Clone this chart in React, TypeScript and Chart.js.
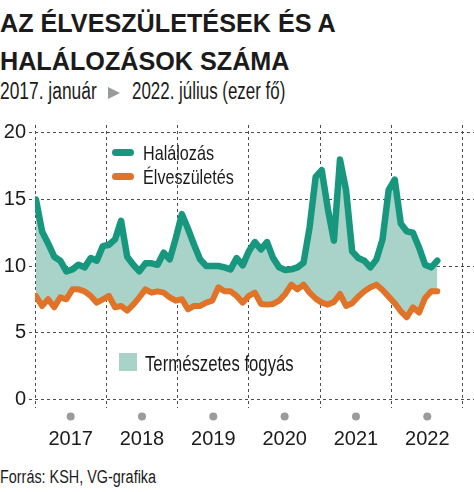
import React, { useEffect, useRef } from "react";
import { Chart, registerables } from "chart.js";

Chart.register(...registerables);

// ---- data (thousand persons, monthly, 2017 Jan – 2022 Jul) ----
const years = ["2017", "2018", "2019", "2020", "2021", "2022"];

const deaths = [
  15.0, 12.6, 11.7, 10.7, 10.4, 9.6, 9.75, 10.1, 9.9, 10.6, 10.4, 11.5,
  11.6, 12.0, 13.4, 10.7, 10.1, 9.6, 10.2, 10.2, 10.1, 11.0, 10.5, 12.1,
  13.9, 12.8, 11.6, 10.5, 10.0, 10.0, 10.0, 9.9, 9.75, 10.6, 10.05, 11.1,
  11.8, 11.25, 11.8, 10.6, 9.9, 9.7, 9.75, 9.9, 10.25, 12.9, 16.7, 17.2,
  14.3, 11.9, 18.0, 15.7, 11.1, 10.6, 10.4, 9.9, 10.5, 12.0, 15.7, 16.5,
  13.2, 12.6, 12.5, 11.4, 10.1, 9.9, 10.4,
];

const births = [
  7.75, 7.0, 7.5, 6.9, 7.65, 7.5, 8.25, 8.25, 8.1, 7.75, 7.25, 7.5,
  7.75, 6.9, 7.0, 6.65, 7.1, 7.65, 8.25, 8.0, 8.1, 8.0, 7.65, 7.4,
  7.5, 6.75, 7.0, 7.0, 7.25, 7.4, 8.4, 8.1, 8.1, 7.75, 7.25, 7.75,
  8.0, 7.15, 7.1, 7.15, 7.4, 7.9, 8.6, 8.25, 8.6, 8.0, 7.55, 7.25,
  7.1, 7.3, 7.9, 7.0, 7.2, 7.7, 8.1, 8.4, 8.6, 8.2, 7.7, 7.2,
  6.6, 6.15, 6.9, 6.5, 7.6, 8.1, 8.1,
];

const yTicks = [0, 5, 10, 15, 20];

// ---- style ----
const FONT = "'Liberation Sans', Arial, sans-serif";
const TEAL = "#17977d";
const ORANGE = "#e07328";
const FILL = "#a9d3c9";
const GRID = "#4d4d4d";
const TEXT = "#1b1b1b";

const X_MIN = -0.16;
const SPAN = 11.73;
const X_MAX = 72.04;
const Y_MIN = -0.67;
const Y_MAX = 20.6;

export default function App() {
  const ref = useRef<HTMLCanvasElement>(null);

  useEffect(() => {
    document.body.style.margin = "0";
    const dotPlugin = {
      id: "yearDots",
      afterDraw(chart: any) {
        const s = chart.scales.xYear;
        const ctx = chart.ctx;
        ctx.save();
        ctx.fillStyle = "#9b9b9b";
        s.ticks.forEach((t: any) => {
          const px = s.getPixelForValue(t.value);
          ctx.beginPath();
          ctx.arc(px, chart.chartArea.bottom + 8.5, 4, 0, Math.PI * 2);
          ctx.fill();
        });
        ctx.restore();
      },
    };

    const chart = new Chart(ref.current as HTMLCanvasElement, {
      type: "line",
      data: {
        datasets: [
          {
            label: "Halálozás",
            data: deaths.map((v, i) => ({ x: i, y: v })),
            borderColor: TEAL,
            borderWidth: 6.5,
            fill: "+1",
            backgroundColor: FILL,
            pointRadius: 0,
            tension: 0,
            borderJoinStyle: "round",
            borderCapStyle: "round",
            xAxisID: "x",
            yAxisID: "y",
          },
          {
            label: "Élveszületés",
            data: births.map((v, i) => ({ x: i, y: v })),
            borderColor: ORANGE,
            borderWidth: 6,
            fill: false,
            pointRadius: 0,
            tension: 0,
            borderJoinStyle: "round",
            borderCapStyle: "round",
            xAxisID: "x",
            yAxisID: "y",
          },
        ],
      },
      options: {
        responsive: false,
        animation: false,
        events: [],
        layout: { padding: { top: 13, left: 0, right: 0, bottom: 0 } },
        plugins: {
          legend: { display: false },
          tooltip: { enabled: false },
          filler: { drawTime: "beforeDatasetsDraw" },
        } as any,
        scales: {
          x: {
            type: "linear",
            position: "bottom",
            min: X_MIN,
            max: X_MAX,
            afterBuildTicks: (s: any) => {
              s.ticks = [0, 1, 2, 3, 4, 5, 6].map((k) => ({ value: X_MIN + k * SPAN }));
            },
            afterFit: (s: any) => {
              s.height = 0;
            },
            ticks: { display: false },
            grid: { color: GRID, lineWidth: 1, drawTicks: false },
            border: { display: false, dash: [3, 3] },
          },
          xYear: {
            type: "linear",
            position: "bottom",
            min: X_MIN,
            max: X_MAX,
            afterBuildTicks: (s: any) => {
              s.ticks = years.map((_, k) => ({ value: X_MIN + (k + 0.5) * SPAN }));
            },
            afterFit: (s: any) => {
              s.height = 52;
            },
            ticks: {
              callback: (_v: any, i: number) => years[i],
              font: { family: FONT, size: 20 },
              color: TEXT,
              padding: 19,
              autoSkip: false,
              maxRotation: 0,
            },
            grid: { display: false, drawTicks: false },
            border: { display: false },
          },
          y: {
            type: "linear",
            min: Y_MIN,
            max: Y_MAX,
            afterBuildTicks: (s: any) => {
              s.ticks = yTicks.map((v) => ({ value: v }));
            },
            afterFit: (s: any) => {
              s.width = 35;
            },
            ticks: {
              font: { family: FONT, size: 20 },
              color: TEXT,
              padding: 3,
            },
            grid: { color: GRID, lineWidth: 1, tickLength: 6, tickBorderDash: [3, 3] },
            border: { display: false, dash: [3, 3] },
          },
        } as any,
      },
      plugins: [dotPlugin],
    });
    return () => chart.destroy();
  }, []);

  const txt = (left: number, top: number, size: number, sx: number, extra: React.CSSProperties = {}): React.CSSProperties => ({
    position: "absolute",
    left,
    top,
    fontSize: size,
    lineHeight: `${size}px`,
    whiteSpace: "nowrap",
    transform: `scaleX(${sx})`,
    transformOrigin: "0 0",
    ...extra,
  });

  return (
    <div
      style={{
        position: "fixed",
        left: 0,
        top: 0,
        width: 474,
        height: 492,
        overflow: "hidden",
        background: "#fff",
        fontFamily: FONT,
        color: TEXT,
      }}
    >
      <div style={txt(0, 10, 26.5, 0.95, { fontWeight: 700 })}>AZ ÉLVESZÜLETÉSEK ÉS A</div>
      <div style={txt(0, 48, 26.5, 0.95, { fontWeight: 700 })}>HALÁLOZÁSOK SZÁMA</div>

      <div style={txt(0, 80, 23.5, 0.74)}>2017. január</div>
      <div
        style={{
          position: "absolute",
          left: 108,
          top: 87,
          width: 0,
          height: 0,
          borderLeft: "12px solid #9a9a9a",
          borderTop: "6px solid transparent",
          borderBottom: "6px solid transparent",
        }}
      />
      <div style={txt(132, 80, 23.5, 0.72)}>2022. július (ezer fő)</div>

      <canvas
        ref={ref}
        width={474}
        height={350}
        style={{ position: "absolute", left: 0, top: 110, width: 474, height: 350 }}
      />

      {/* legend */}
      <div style={{ position: "absolute", left: 112, top: 148.5, width: 22, height: 7, borderRadius: 4, background: TEAL }} />
      <div style={txt(143, 142, 21, 0.77)}>Halálozás</div>
      <div style={{ position: "absolute", left: 112, top: 173, width: 22, height: 7, borderRadius: 4, background: ORANGE }} />
      <div style={txt(143, 166, 21, 0.77)}>Élveszületés</div>

      <div style={{ position: "absolute", left: 119, top: 353, width: 18, height: 18, background: FILL }} />
      <div style={txt(145, 353, 22, 0.76)}>Természetes fogyás</div>

      <div style={txt(0, 468, 18, 0.8)}>Forrás: KSH, VG-grafika</div>
    </div>
  );
}
